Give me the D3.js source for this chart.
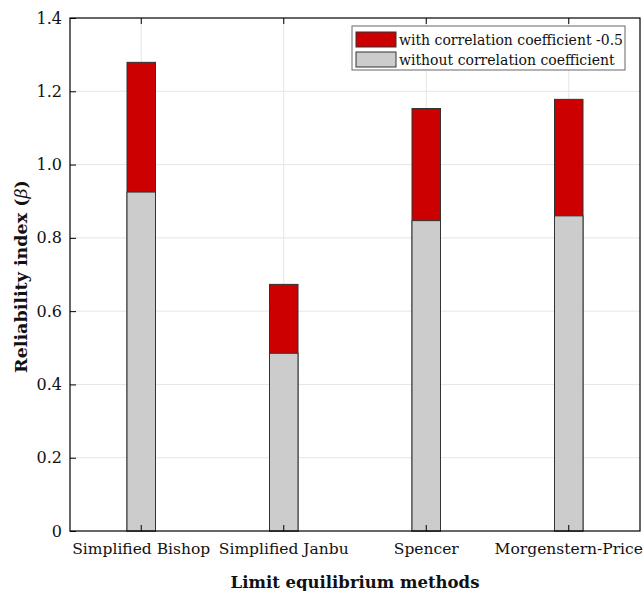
<!DOCTYPE html>
<html>
<head>
<meta charset="utf-8">
<script src="https://cdn.jsdelivr.net/npm/d3@7"></script>
<style>
  html, body { margin: 0; padding: 0; background: #fff; }
  svg { display: block; }
  text { font-family: "DejaVu Serif", "Liberation Serif", serif; fill: #111; }
</style>
</head>
<body>
<svg id="chart" width="644" height="591"></svg>
<script>
// Reliability index of each limit equilibrium method
const methods = ["Simplified Bishop", "Simplified Janbu", "Spencer", "Morgenstern-Price"];
const withCorrelation = [1.279, 0.673, 1.153, 1.178];
const withoutCorrelation = [0.925, 0.485, 0.847, 0.860];
const yTicks = [0, 0.2, 0.4, 0.6, 0.8, 1.0, 1.2, 1.4];
const seriesNames = ["with correlation coefficient -0.5", "without correlation coefficient"];

const colors = { withC: "#cc0000", withoutC: "#cccccc" };

const svg = d3.select("#chart");
const margin = { left: 70, top: 18, right: 4, bottom: 60 };
const W = 644, H = 591;
const x0 = margin.left, x1 = W - margin.right;
const y0 = H - margin.bottom, y1 = margin.top;

const x = d3.scaleBand().domain(methods).range([x0, x1]).paddingInner(0).paddingOuter(0);
const y = d3.scaleLinear().domain([0, 1.4]).range([y0, y1]);
const barW = x.bandwidth() * 0.2;
const cx = m => x(m) + x.bandwidth() / 2;

// grid
const grid = svg.append("g");
grid.selectAll("line.gy").data(yTicks.slice(1, -1)).join("line")
  .attr("x1", x0).attr("x2", x1)
  .attr("y1", d => y(d)).attr("y2", d => y(d))
  .attr("stroke", "#e6e6e6").attr("stroke-width", 1);
grid.selectAll("line.gx").data(methods).join("line")
  .attr("x1", d => cx(d)).attr("x2", d => cx(d))
  .attr("y1", y0).attr("y2", y1)
  .attr("stroke", "#e6e6e6").attr("stroke-width", 1);

// bars: the correlated value behind, the uncorrelated value in front
const bars = svg.append("g");
bars.selectAll("rect.w").data(methods).join("rect")
  .attr("x", d => cx(d) - barW / 2)
  .attr("width", barW)
  .attr("y", (d, i) => y(withCorrelation[i]))
  .attr("height", (d, i) => y(0) - y(withCorrelation[i]))
  .attr("fill", colors.withC).attr("stroke", "#333").attr("stroke-width", 1);
bars.selectAll("rect.wo").data(methods).join("rect")
  .attr("x", d => cx(d) - barW / 2)
  .attr("width", barW)
  .attr("y", (d, i) => y(withoutCorrelation[i]))
  .attr("height", (d, i) => y(0) - y(withoutCorrelation[i]))
  .attr("fill", colors.withoutC).attr("stroke", "#333").attr("stroke-width", 1);

// axes
const tickLen = 6;
const yAxis = d3.axisLeft(y).tickValues(yTicks)
  .tickFormat(d => d === 0 ? "0" : d3.format(".1f")(d))
  .tickSizeInner(-tickLen).tickSizeOuter(0).tickPadding(8);
const gy = svg.append("g").attr("transform", `translate(${x0},0)`).call(yAxis);
gy.select(".domain").remove();
gy.selectAll(".tick line").attr("stroke", "#000");
gy.selectAll(".tick text").attr("font-size", 16).attr("fill", "#222")
  .style("font-family", '"DejaVu Serif", serif');

const xAxis = d3.axisBottom(x).tickSizeInner(-tickLen).tickSizeOuter(0).tickPadding(12);
const gx = svg.append("g").attr("transform", `translate(0,${y0})`).call(xAxis);
gx.select(".domain").remove();
gx.selectAll(".tick line").attr("stroke", "#000");
gx.selectAll(".tick text").attr("font-size", 15.5).attr("fill", "#222")
  .style("font-family", '"DejaVu Serif", serif');

const xTop = d3.axisTop(x).tickSizeInner(-tickLen).tickSizeOuter(0).tickFormat("");
const gt = svg.append("g").attr("transform", `translate(0,${y1})`).call(xTop);
gt.select(".domain").remove();
gt.selectAll(".tick line").attr("stroke", "#000");

// frame
svg.append("rect").attr("x", x0).attr("y", y1)
  .attr("width", x1 - x0).attr("height", y0 - y1)
  .attr("fill", "none").attr("stroke", "#000").attr("stroke-width", 1.2);

// titles
svg.append("text").attr("x", (x0 + x1) / 2).attr("y", 588)
  .attr("text-anchor", "middle").attr("font-size", 16.5).attr("font-weight", "bold")
  .text("Limit equilibrium methods");
const yt = svg.append("text")
  .attr("transform", `translate(27,${(y0 + y1) / 2 + 2}) rotate(-90)`)
  .attr("text-anchor", "middle").attr("font-size", 17.5).attr("font-weight", "bold");
yt.append("tspan").text("Reliability index (");
yt.append("tspan").attr("font-style", "italic").attr("font-weight", "normal").text("β");
yt.append("tspan").text(")");

// legend
const lg = svg.append("g").attr("transform", "translate(352,26)");
lg.append("rect").attr("width", 273).attr("height", 44)
  .attr("fill", "#fff").attr("stroke", "#666").attr("stroke-width", 1);
const legendItems = [
  { name: seriesNames[0], color: colors.withC },
  { name: seriesNames[1], color: colors.withoutC }
];
legendItems.forEach((it, i) => {
  lg.append("rect").attr("x", 4).attr("y", 6 + i * 20)
    .attr("width", 40).attr("height", 15)
    .attr("fill", it.color).attr("stroke", "#333").attr("stroke-width", 1);
  lg.append("text").attr("x", 47).attr("y", 19 + i * 20)
    .attr("font-size", 14).attr("textLength", null).text(it.name);
});
</script>
</body>
</html>
